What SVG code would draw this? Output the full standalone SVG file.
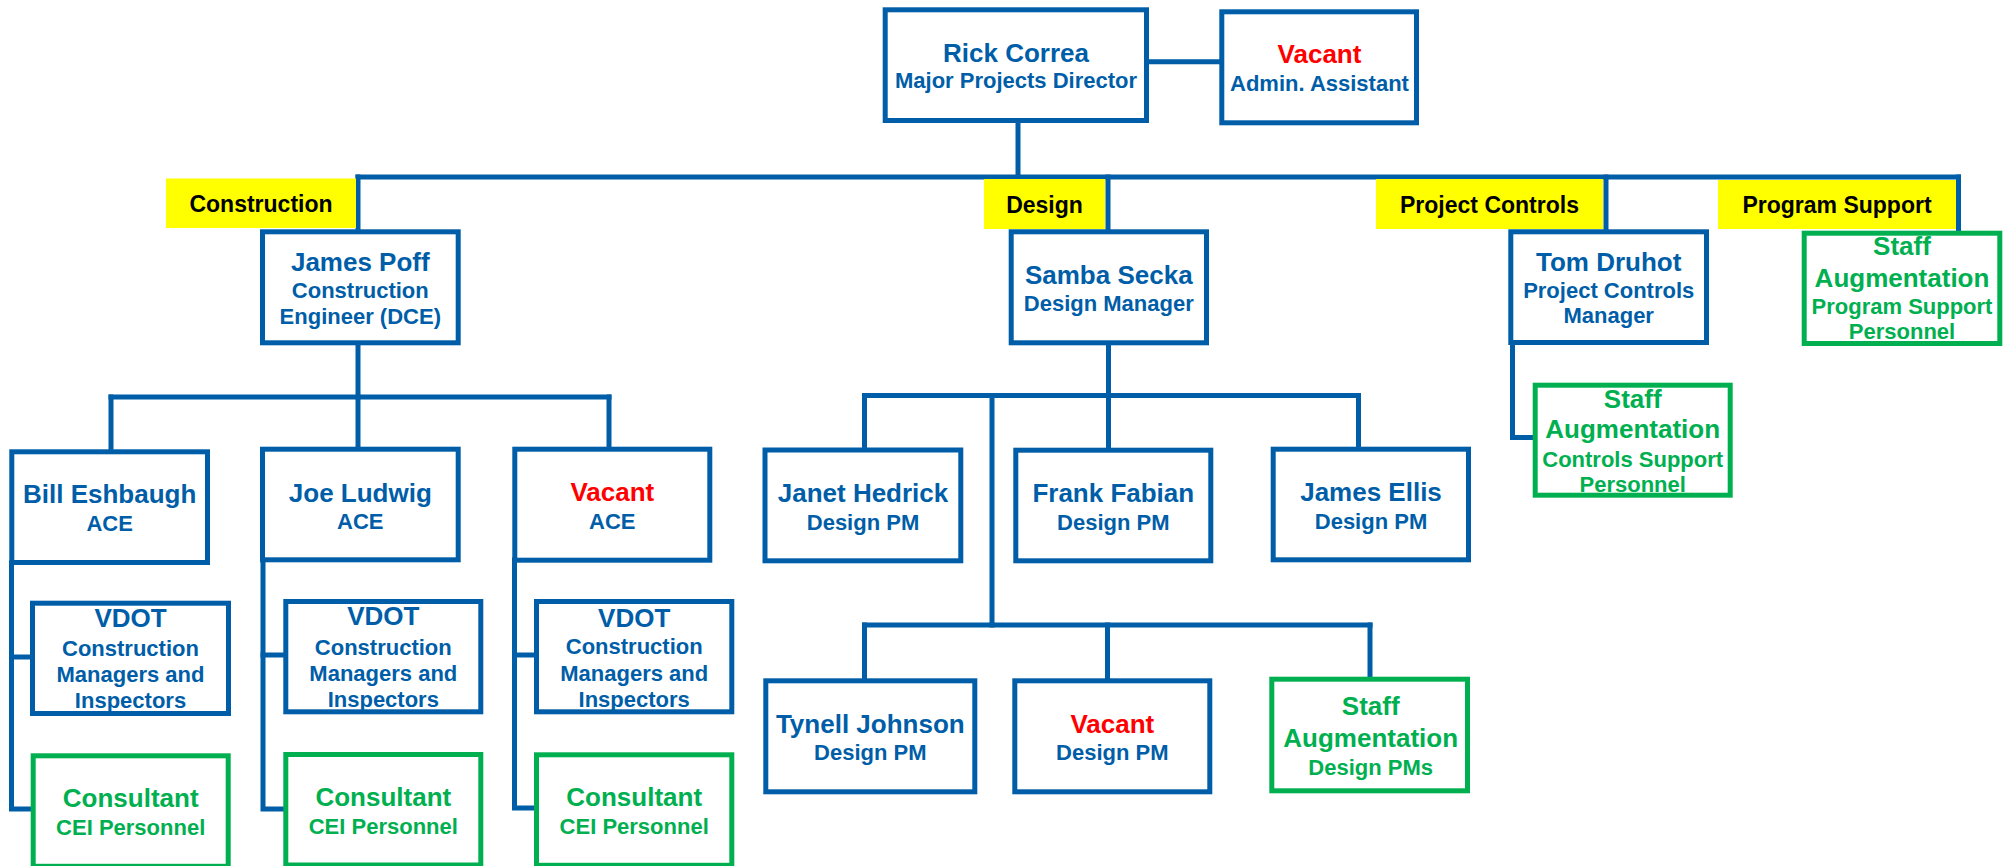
<svg xmlns="http://www.w3.org/2000/svg" width="2011" height="866" viewBox="0 0 2011 866">
<style>
  .bx { fill: #ffffff; stroke: #005EA8; stroke-width: 5; }
  .gx { fill: #ffffff; stroke: #00B050; stroke-width: 5; }
  .lbl { fill: #FFFF00; }
  .ln { fill: none; stroke: #005EA8; stroke-width: 5; stroke-linecap: square; stroke-linejoin: miter; }
  text { font-family: "Liberation Sans", Arial, sans-serif; font-weight: bold; text-anchor: middle; }
  .nm { font-size: 26px; fill: #005EA8; }
  .tt { font-size: 22px; fill: #005EA8; }
  .vac { font-size: 26px; fill: #FF0000; }
  .gn { font-size: 26px; fill: #00B050; }
  .gt { font-size: 22px; fill: #00B050; }
  .lt { font-size: 23px; fill: #000000; }
</style>
<rect width="2011" height="866" fill="#ffffff"/>

<g id="connectors">
  <path class="ln" d="M1147 61.7 H1221"/>
  <path class="ln" d="M1018 121 V177"/>
  <path class="ln" d="M358 177 H1958.5"/>
  <path class="ln" d="M358 177 V231"/>
  <path class="ln" d="M1108 177 V231"/>
  <path class="ln" d="M1606 177 V231"/>
  <path class="ln" d="M1958.5 177 V232"/>
  <!-- construction -->
  <path class="ln" d="M358 344 V397"/>
  <path class="ln" d="M111 397 H609"/>
  <path class="ln" d="M111 397 V451"/>
  <path class="ln" d="M358 397 V449"/>
  <path class="ln" d="M609 397 V449"/>
  <path class="ln" d="M11.5 563 V809 H32"/>
  <path class="ln" d="M11.5 657 H32"/>
  <path class="ln" d="M263 560 V809 H285"/>
  <path class="ln" d="M263 655 H285"/>
  <path class="ln" d="M514.5 560 V808 H536"/>
  <path class="ln" d="M514.5 655 H536"/>
  <!-- design -->
  <path class="ln" d="M1108.5 344 V395.5"/>
  <path class="ln" d="M864.5 395.5 H1358.5"/>
  <path class="ln" d="M864.5 395.5 V450"/>
  <path class="ln" d="M1108.5 395.5 V450"/>
  <path class="ln" d="M1358.5 395.5 V449"/>
  <path class="ln" d="M992 395.5 V625"/>
  <path class="ln" d="M864.5 625 H1370"/>
  <path class="ln" d="M864.5 625 V681"/>
  <path class="ln" d="M1107.5 625 V681"/>
  <path class="ln" d="M1370 625 V679"/>
  <!-- project controls -->
  <path class="ln" d="M1512.5 343 V437.5 H1535"/>
</g>

<g id="label-construction">
  <rect class="lbl" x="166" y="178.5" width="190" height="49.5"/>
  <text class="lt" x="261" y="212">Construction</text>
</g>
<g id="label-design">
  <rect class="lbl" x="984" y="179" width="121" height="50"/>
  <text class="lt" x="1044.5" y="212.5">Design</text>
</g>
<g id="label-project-controls">
  <rect class="lbl" x="1376" y="179" width="227" height="50"/>
  <text class="lt" x="1489.5" y="212.5">Project Controls</text>
</g>
<g id="label-program-support">
  <rect class="lbl" x="1718" y="180" width="238" height="49"/>
  <text class="lt" x="1837" y="212.5">Program Support</text>
</g>

<g id="rick-correa">
  <rect class="bx" x="885.2" y="9.8" width="261.3" height="110.7"/>
  <text class="nm" x="1016" y="61.7">Rick Correa</text>
  <text class="tt" x="1016" y="88.3">Major Projects Director</text>
</g>
<g id="admin-assistant">
  <rect class="bx" x="1221.8" y="11.8" width="194.7" height="111"/>
  <text class="vac" x="1319.5" y="63.3">Vacant</text>
  <text class="tt" x="1319.5" y="90.7">Admin. Assistant</text>
</g>

<g id="james-poff">
  <rect class="bx" x="262.5" y="231.8" width="195.7" height="111"/>
  <text class="nm" x="360.3" y="271">James Poff</text>
  <text class="tt" x="360.3" y="297.7">Construction</text>
  <text class="tt" x="360.3" y="324">Engineer (DCE)</text>
</g>
<g id="samba-secka">
  <rect class="bx" x="1011.2" y="231.8" width="195.3" height="111"/>
  <text class="nm" x="1108.8" y="284">Samba Secka</text>
  <text class="tt" x="1108.8" y="310.7">Design Manager</text>
</g>
<g id="tom-druhot">
  <rect class="bx" x="1510.8" y="231.8" width="195.7" height="110.7"/>
  <text class="nm" x="1608.7" y="270.7">Tom Druhot</text>
  <text class="tt" x="1608.7" y="297.7">Project Controls</text>
  <text class="tt" x="1608.7" y="323.3">Manager</text>
</g>
<g id="staff-program-support">
  <rect class="gx" x="1804.2" y="233.2" width="195.6" height="110.3"/>
  <text class="gn" x="1902" y="255">Staff</text>
  <text class="gn" x="1902" y="286.7">Augmentation</text>
  <text class="gt" x="1902" y="314.3">Program Support</text>
  <text class="gt" x="1902" y="339.3">Personnel</text>
</g>
<g id="staff-controls-support">
  <rect class="gx" x="1535.2" y="385.2" width="195" height="110"/>
  <text class="gn" x="1632.7" y="407.7">Staff</text>
  <text class="gn" x="1632.7" y="438.3">Augmentation</text>
  <text class="gt" x="1632.7" y="466.7">Controls Support</text>
  <text class="gt" x="1632.7" y="491.7">Personnel</text>
</g>

<g id="bill-eshbaugh">
  <rect class="bx" x="11.8" y="451.8" width="195.7" height="110.7"/>
  <text class="nm" x="109.7" y="503.3">Bill Eshbaugh</text>
  <text class="tt" x="109.7" y="530.7">ACE</text>
</g>
<g id="joe-ludwig">
  <rect class="bx" x="262.5" y="449.2" width="195.7" height="110.6"/>
  <text class="nm" x="360.3" y="501.7">Joe Ludwig</text>
  <text class="tt" x="360.3" y="529">ACE</text>
</g>
<g id="vacant-ace">
  <rect class="bx" x="514.8" y="449.2" width="195" height="111"/>
  <text class="vac" x="612.3" y="500.7">Vacant</text>
  <text class="tt" x="612.3" y="529">ACE</text>
</g>
<g id="janet-hedrick">
  <rect class="bx" x="765" y="450" width="195.8" height="110.8"/>
  <text class="nm" x="863" y="501.7">Janet Hedrick</text>
  <text class="tt" x="863" y="530">Design PM</text>
</g>
<g id="frank-fabian">
  <rect class="bx" x="1015.8" y="450.2" width="195" height="110.6"/>
  <text class="nm" x="1113.3" y="501.7">Frank Fabian</text>
  <text class="tt" x="1113.3" y="530">Design PM</text>
</g>
<g id="james-ellis">
  <rect class="bx" x="1273.2" y="449.2" width="195.3" height="110.6"/>
  <text class="nm" x="1371" y="500.7">James Ellis</text>
  <text class="tt" x="1371" y="529">Design PM</text>
</g>

<g id="vdot-1">
  <rect class="bx" x="32.5" y="603.2" width="196" height="110.3"/>
  <text class="nm" x="130.5" y="626.7">VDOT</text>
  <text class="tt" x="130.5" y="656">Construction</text>
  <text class="tt" x="130.5" y="682.3">Managers and</text>
  <text class="tt" x="130.5" y="708.3">Inspectors</text>
</g>
<g id="vdot-2">
  <rect class="bx" x="285.8" y="601.5" width="195" height="110.3"/>
  <text class="nm" x="383.3" y="625.3">VDOT</text>
  <text class="tt" x="383.3" y="654.5">Construction</text>
  <text class="tt" x="383.3" y="681">Managers and</text>
  <text class="tt" x="383.3" y="707">Inspectors</text>
</g>
<g id="vdot-3">
  <rect class="bx" x="536.5" y="601.5" width="195.3" height="110.3"/>
  <text class="nm" x="634.2" y="626.7">VDOT</text>
  <text class="tt" x="634.2" y="654">Construction</text>
  <text class="tt" x="634.2" y="681">Managers and</text>
  <text class="tt" x="634.2" y="706.7">Inspectors</text>
</g>

<g id="consultant-1">
  <rect class="gx" x="33.2" y="755.8" width="195" height="110.5"/>
  <text class="gn" x="130.7" y="807.3">Consultant</text>
  <text class="gt" x="130.7" y="835">CEI Personnel</text>
</g>
<g id="consultant-2">
  <rect class="gx" x="285.8" y="754.5" width="195" height="110.5"/>
  <text class="gn" x="383.3" y="806">Consultant</text>
  <text class="gt" x="383.3" y="834">CEI Personnel</text>
</g>
<g id="consultant-3">
  <rect class="gx" x="536.5" y="754.8" width="195.3" height="110.5"/>
  <text class="gn" x="634.2" y="806">Consultant</text>
  <text class="gt" x="634.2" y="834">CEI Personnel</text>
</g>

<g id="tynell-johnson">
  <rect class="bx" x="765.8" y="680.8" width="209" height="111"/>
  <text class="nm" x="870.3" y="733.3">Tynell Johnson</text>
  <text class="tt" x="870.3" y="760">Design PM</text>
</g>
<g id="vacant-design-pm">
  <rect class="bx" x="1014.8" y="680.8" width="195" height="111"/>
  <text class="vac" x="1112.3" y="732.7">Vacant</text>
  <text class="tt" x="1112.3" y="760">Design PM</text>
</g>
<g id="staff-design-pms">
  <rect class="gx" x="1271.8" y="679.2" width="195.7" height="111.6"/>
  <text class="gn" x="1370.7" y="715">Staff</text>
  <text class="gn" x="1370.7" y="746.7">Augmentation</text>
  <text class="gt" x="1370.7" y="775">Design PMs</text>
</g>
</svg>
